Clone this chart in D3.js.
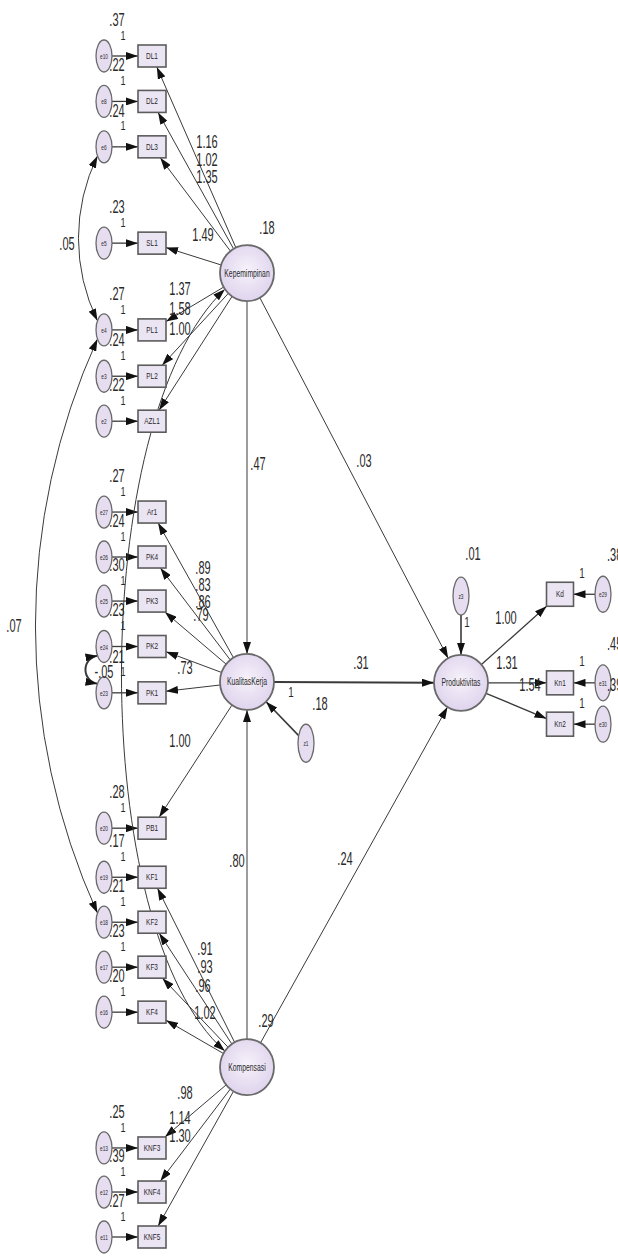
<!DOCTYPE html>
<html>
<head>
<meta charset="utf-8">
<script src="https://cdn.jsdelivr.net/npm/d3@7"></script>
<style>
  body { margin: 0; background: #fff; }
</style>
</head>
<body>
<svg id="sem" width="618" height="1260"></svg>
<script>
// ---- model values ----
var latentNames = ["Kepemimpinan", "KualitasKerja", "Kompensasi", "Produktivitas"];
var latentVariances = [".18", "", ".29", ""];

var indicatorNames = ["DL1", "DL2", "DL3", "SL1", "PL1", "PL2", "AZL1",
                      "Ar1", "PK4", "PK3", "PK2", "PK1", "PB1",
                      "KF1", "KF2", "KF3", "KF4", "KNF3", "KNF4", "KNF5"];
var indicatorLatent = ["Kepemimpinan", "Kepemimpinan", "Kepemimpinan", "Kepemimpinan", "Kepemimpinan", "Kepemimpinan", "Kepemimpinan",
                       "KualitasKerja", "KualitasKerja", "KualitasKerja", "KualitasKerja", "KualitasKerja", "KualitasKerja",
                       "Kompensasi", "Kompensasi", "Kompensasi", "Kompensasi", "Kompensasi", "Kompensasi", "Kompensasi"];
var loadingValues = ["1.16", "1.02", "1.35", "1.49", "1.37", "1.58", "1.00",
                     ".89", ".83", ".86", ".79", ".73", "1.00",
                     ".91", ".93", ".96", "1.02", ".98", "1.14", "1.30"];
var errorNames = ["e10", "e8", "e6", "e5", "e4", "e3", "e2",
                  "e27", "e26", "e25", "e24", "e23", "e20",
                  "e19", "e18", "e17", "e16", "e13", "e12", "e11"];
var errorVariances = [".37", ".22", ".24", ".23", ".27", ".24", ".22",
                      ".27", ".24", ".30", ".23", ".21", ".28",
                      ".17", ".21", ".23", ".20", ".25", ".39", ".27"];

var outcomeNames = ["Kd", "Kn1", "Kn2"];
var outcomeLoadings = ["1.00", "1.31", "1.54"];
var outcomeErrors = ["e29", "e31", "e30"];
var outcomeErrorVariances = [".38", ".45", ".39"];

var pathFrom = ["Kepemimpinan", "Kepemimpinan", "KualitasKerja", "Kompensasi", "Kompensasi"];
var pathTo = ["KualitasKerja", "Produktivitas", "Produktivitas", "KualitasKerja", "Produktivitas"];
var pathWeights = [".47", ".03", ".31", ".80", ".24"];

var disturbanceNames = ["z1", "z3"];
var disturbanceTargets = ["KualitasKerja", "Produktivitas"];
var disturbanceVariances = [".18", ".01"];

var covFrom = ["e6", "e4", "e24"];
var covTo = ["e4", "e18", "e23"];
var covValues = [".05", ".07", "-.05"];

// ---- layout (diagram slots) ----
var rowScale = d3.scaleLinear().domain([0, 26]).range([56, 1237]);
var colScale = d3.scaleOrdinal()
    .domain(["err", "ind", "lat", "dist", "prod", "indR", "errR"])
    .range([104, 152, 247, 306, 461, 560, 603]);

var indicatorRow = [0, 1, 2, 4.12, 6.03, 7.05, 8.04,
                    10.04, 11.03, 12, 13, 14.02, 17,
                    18.08, 19.07, 20.06, 21.05, 24.04, 25.01, 26];
var latentSlot = [["lat", 4.78], ["lat", 13.78], ["lat", 22.26], ["prod", 13.8]];
var outcomeRow = [11.85, 13.8, 14.71];
var disturbanceSlot = [["dist", 15.13], ["prod", 11.89]];
var covBulge = [19, 62, 12];

var loadingLabelXY = [[207, 141], [207, 159], [207, 176], [203, 234], [180, 288], [180, 308], [180, 328],
                      [203, 567], [203, 584], [203, 601], [201, 614], [185, 667], [180, 740],
                      [205, 948], [205, 966], [203, 985], [205, 1012], [185, 1092], [180, 1117], [180, 1135]];
var pathLabelXY = [[258, 463], [364, 460], [361, 662], [237, 860], [345, 858]];
var latentVarXY = [[267, 227], null, [266, 1020], null];
var disturbanceVarXY = [[320, 703], [473, 553]];
var disturbanceOneXY = [[291, 692], [467, 622]];
var outcomeLoadingXY = [[506, 617], [507, 662], [530, 684]];
var covLabelXY = [[67, 243], [14, 625], [104, 671]];

var svg = d3.select("#sem");
var defs = svg.append("defs");
defs.append("marker").attr("id", "head")
    .attr("viewBox", "0 0 12 8").attr("refX", 12).attr("refY", 4)
    .attr("markerWidth", 12).attr("markerHeight", 8)
    .attr("markerUnits", "userSpaceOnUse").attr("orient", "auto-start-reverse")
  .append("path").attr("d", "M0,0L12,4L0,8Z").attr("fill", "#111");

var grad = defs.append("radialGradient").attr("id", "lav").attr("cx", "50%").attr("cy", "45%").attr("r", "60%");
grad.append("stop").attr("offset", "0%").attr("stop-color", "#f6f2fa");
grad.append("stop").attr("offset", "100%").attr("stop-color", "#ddd1ec");

// ---- nodes ----
var nodes = {};
latentNames.forEach(function (n, i) {
    nodes[n] = { name: n, x: colScale(latentSlot[i][0]), y: rowScale(latentSlot[i][1]), shape: "ellipse", rx: 27, ry: 28, big: true };
});
indicatorNames.forEach(function (n, i) {
    nodes[n] = { name: n, x: colScale("ind"), y: rowScale(indicatorRow[i]), shape: "rect", w: 28, h: 22 };
    nodes[errorNames[i]] = { name: errorNames[i], x: colScale("err"), y: rowScale(indicatorRow[i]), shape: "ellipse", rx: 8, ry: 16 };
});
outcomeNames.forEach(function (n, i) {
    nodes[n] = { name: n, x: colScale("indR"), y: rowScale(outcomeRow[i]), shape: "rect", w: 27, h: 24 };
    nodes[outcomeErrors[i]] = { name: outcomeErrors[i], x: colScale("errR"), y: rowScale(outcomeRow[i]), shape: "ellipse", rx: 8, ry: 18 };
});
disturbanceNames.forEach(function (n, i) {
    nodes[n] = { name: n, x: colScale(disturbanceSlot[i][0]), y: rowScale(disturbanceSlot[i][1]), shape: "ellipse", rx: 8, ry: 19 };
});

// point where the line towards (tx,ty) leaves node n
function edgePoint(n, tx, ty) {
    var dx = tx - n.x, dy = ty - n.y, t;
    if (n.shape === "rect") t = Math.min(n.w / 2 / Math.abs(dx || 1e-9), n.h / 2 / Math.abs(dy || 1e-9));
    else t = 1 / Math.sqrt((dx / n.rx) * (dx / n.rx) + (dy / n.ry) * (dy / n.ry));
    return [n.x + dx * t, n.y + dy * t];
}
function ellipsePoint(n, deg) {
    var a = deg * Math.PI / 180;
    return [n.x + n.rx * Math.cos(a), n.y + n.ry * Math.sin(a)];
}

var gLines = svg.append("g").attr("stroke", "#3a3a3a").attr("fill", "none");

function arrow(a, b, width) {
    var p = edgePoint(a, b.x, b.y), q = edgePoint(b, a.x, a.y);
    gLines.append("line")
        .attr("x1", p[0]).attr("y1", p[1]).attr("x2", q[0]).attr("y2", q[1])
        .attr("stroke-width", width || 1)
        .attr("marker-end", "url(#head)");
}

// measurement paths
indicatorNames.forEach(function (n, i) {
    arrow(nodes[indicatorLatent[i]], nodes[n]);
    arrow(nodes[errorNames[i]], nodes[n], 1.3);
});
outcomeNames.forEach(function (n, i) {
    arrow(nodes.Produktivitas, nodes[n], 1.3);
    arrow(nodes[outcomeErrors[i]], nodes[n], 1.3);
});
// structural paths
pathFrom.forEach(function (f, i) {
    arrow(nodes[f], nodes[pathTo[i]], pathFrom[i] === "KualitasKerja" ? 2 : 1);
});
disturbanceNames.forEach(function (n, i) {
    arrow(nodes[n], nodes[disturbanceTargets[i]], 1.6);
});

// covariances between errors (arcs bulging to the left)
covFrom.forEach(function (f, i) {
    var p = ellipsePoint(nodes[f], 145), q = ellipsePoint(nodes[covTo[i]], 215);
    var c = Math.hypot(q[0] - p[0], q[1] - p[1]), s = covBulge[i];
    var R = (c * c / 4 + s * s) / (2 * s);
    gLines.append("path")
        .attr("d", "M" + p + "A" + R + "," + R + " 0 0 0 " + q)
        .attr("stroke-width", i === 2 ? 2 : 1)
        .attr("marker-start", "url(#head)").attr("marker-end", "url(#head)");
});
// covariance Kepemimpinan <-> Kompensasi
(function () {
    var a = nodes.Kepemimpinan, b = nodes.Kompensasi;
    var p = ellipsePoint(a, 145), q = ellipsePoint(b, 215);
    gLines.append("path")
        .attr("d", "M" + p + "C" + [a.x - 160, a.y + 147] + " " + [b.x - 160, b.y - 137] + " " + q)
        .attr("stroke-width", 1)
        .attr("marker-start", "url(#head)").attr("marker-end", "url(#head)");
})();

// ---- draw nodes ----
var gNodes = svg.append("g");
function txt(sel, x, y, s, size, sx, anchor) {
    sel.append("text")
        .attr("transform", "translate(" + x + "," + y + ") scale(" + sx + ",1)")
        .attr("text-anchor", anchor || "middle").attr("dominant-baseline", "central")
        .attr("font-family", "Liberation Sans, Arial, sans-serif")
        .attr("font-size", size).attr("fill", "#2a2a2a")
        .text(s);
}
Object.keys(nodes).forEach(function (k) {
    var n = nodes[k];
    if (n.shape === "rect") {
        gNodes.append("rect")
            .attr("x", n.x - n.w / 2).attr("y", n.y - n.h / 2)
            .attr("width", n.w).attr("height", n.h)
            .attr("fill", "#ebe4f3").attr("stroke", "#5c5c5c").attr("stroke-width", 1.6);
        txt(gNodes, n.x, n.y, n.name, 9, 0.72);
    } else {
        gNodes.append("ellipse")
            .attr("cx", n.x).attr("cy", n.y).attr("rx", n.rx).attr("ry", n.ry)
            .attr("fill", n.big ? "url(#lav)" : "#e6def0")
            .attr("stroke", "#6a6a6a").attr("stroke-width", n.big ? 1.8 : 1.3);
        if (n.big) txt(gNodes, n.x, n.y, n.name, 10, 0.68);
        else txt(gNodes, n.x, n.y, n.name, 8, 0.6);
    }
});

// ---- estimates ----
var gLab = svg.append("g");
var NUM = 19, SX = 0.58;
loadingValues.forEach(function (v, i) { txt(gLab, loadingLabelXY[i][0], loadingLabelXY[i][1], v, NUM, SX); });
errorVariances.forEach(function (v, i) {
    var e = nodes[errorNames[i]];
    txt(gLab, e.x + 13, e.y - 37, v, NUM, SX);
    txt(gLab, e.x + 19, e.y - 21, "1", 13, 0.7);
});
pathWeights.forEach(function (v, i) { txt(gLab, pathLabelXY[i][0], pathLabelXY[i][1], v, NUM, SX); });
latentVariances.forEach(function (v, i) { if (v) txt(gLab, latentVarXY[i][0], latentVarXY[i][1], v, NUM, SX); });
disturbanceVariances.forEach(function (v, i) {
    txt(gLab, disturbanceVarXY[i][0], disturbanceVarXY[i][1], v, NUM, SX);
    txt(gLab, disturbanceOneXY[i][0], disturbanceOneXY[i][1], "1", 14, 0.7);
});
outcomeLoadings.forEach(function (v, i) { txt(gLab, outcomeLoadingXY[i][0], outcomeLoadingXY[i][1], v, NUM, SX); });
outcomeErrorVariances.forEach(function (v, i) {
    var e = nodes[outcomeErrors[i]];
    txt(gLab, e.x + 4, e.y - 40, v, NUM, SX, "start");
    txt(gLab, e.x - 21, e.y - 21, "1", 14, 0.7);
});
covValues.forEach(function (v, i) { txt(gLab, covLabelXY[i][0], covLabelXY[i][1], v, NUM, SX); });
</script>
</body>
</html>
